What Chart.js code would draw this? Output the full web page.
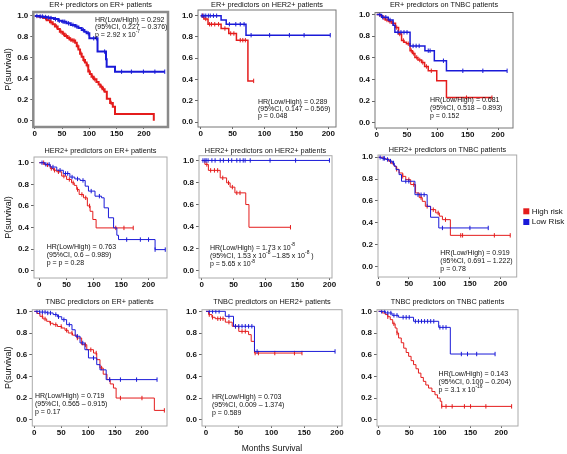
<!DOCTYPE html>
<html>
<head>
<meta charset="utf-8">
<title>Kaplan-Meier survival by predictor set</title>
<script src="https://cdn.jsdelivr.net/npm/chart.js@4.4.1/dist/chart.umd.min.js"></script>
<style>
    body { margin: 0; width: 567px; height: 454px; overflow: hidden; background: #fff; position: relative; }
    canvas { position: absolute; }
</style>
</head>
<body>
<script>
// ---- shared axis values ----
const xTickValues = [0, 50, 100, 150, 200];
const yTickValues = [0, 0.2, 0.4, 0.6, 0.8, 1.0];
const riskLabels = ['High risk', 'Low Risk'];
const riskColors = ['#e41c1c', '#1a1ad8'];

const panelTitles = [
    'ER+ predictors on ER+ patients', 'ER+ predictors on HER2+ patients', 'ER+ predictors on TNBC patients',
    'HER2+ predictors on ER+ patients', 'HER2+ predictors on HER2+ patients', 'HER2+ predictors on TNBC patients',
    'TNBC predictors on ER+ patients', 'TNBC predictors on HER2+ patients', 'TNBC predictors on TNBC patients'
];

// ^{..} marks a superscript
const hrNotes = [
    ['HR(Low/High) = 0.292', '(95%CI, 0.227 \u2013 0.376)', 'p = 2.92 x 10^{-7}'],
    ['HR(Low/High) = 0.289', '(95%CI, 0.147 \u2013 0.569)', 'p = 0.048'],
    ['HR(Low/High) = 0.681', '(95%CI, 0.518 \u2013 0.893)', 'p = 0.152'],
    ['HR(Low/High) = 0.763', '(95%CI, 0.6 \u2013 0.989)', 'p = p = 0.28'],
    ['HR(Low/High) = 1.73 x 10^{-8}', '(95%CI, 1.53 x 10^{-8} \u20131.85 x 10^{-8} )', 'p = 5.65 x 10^{-8}'],
    ['HR(Low/High) = 0.919', '(95%CI, 0.691 \u2013 1.222)', 'p = 0.78'],
    ['HR(Low/High) = 0.719', '(95%CI, 0.565 \u2013 0.915)', 'p = 0.17'],
    ['HR(Low/High) = 0.703', '(95%CI, 0.009 \u2013 1.374)', 'p = 0.589'],
    ['HR(Low/High) = 0.143', '(95%CI, 0.100 \u2013 0.204)', 'p = 3.1 x 10^{-16}']
];

// ---- survival curves: event times (months), survival after each time, censor times ----
// ER+ predictors on ER+
const p11HighT = [0, 5, 10, 16, 22, 28, 33, 37, 42, 46, 51, 55, 60, 64, 68, 74, 77, 80, 83, 86, 89, 92, 95, 98, 101, 104, 108, 113, 117, 120, 124, 128, 132, 138, 143, 147, 218];
const p11HighS = [1, 0.995, 0.99, 0.98, 0.96, 0.94, 0.92, 0.9, 0.875, 0.85, 0.83, 0.81, 0.79, 0.775, 0.765, 0.745, 0.71, 0.68, 0.64, 0.61, 0.58, 0.555, 0.53, 0.47, 0.445, 0.42, 0.395, 0.37, 0.345, 0.325, 0.3, 0.277, 0.21, 0.17, 0.134, 0.064, 0];
const p11HighC = [20, 30, 40, 48, 53, 58, 63, 66, 70, 72, 79, 85, 90, 96, 100, 106, 110, 122, 126, 140];
const p11LowT = [0, 8, 16, 22, 28, 35, 43, 50, 58, 66, 74, 80, 86, 91, 95, 100, 115, 130.5, 131.7, 147, 238];
const p11LowS = [1, 0.995, 0.99, 0.985, 0.98, 0.97, 0.955, 0.945, 0.93, 0.915, 0.9, 0.885, 0.866, 0.85, 0.834, 0.787, 0.66, 0.586, 0.516, 0.468, 0.468];
const p11LowC = [4, 10, 14, 20, 25, 30, 38, 45, 52, 55, 62, 70, 77, 89, 98, 108, 113, 128, 159, 177, 199, 220, 238];

// ER+ predictors on HER2+
const p12HighT = [0, 5, 11.5, 32, 44, 56, 74, 83];
const p12HighS = [1, 0.97, 0.92, 0.88, 0.833, 0.77, 0.387, 0.387];
const p12HighC = [3, 8, 14, 17, 22, 28, 38, 47, 52, 62, 66, 70, 83];
const p12LowT = [0, 32, 40, 71, 203];
const p12LowS = [1, 0.96, 0.92, 0.817, 0.817];
const p12LowC = [2, 5, 8, 12, 15, 20, 25, 45, 55, 62, 68, 79, 108, 139, 162, 203];

// ER+ predictors on TNBC
const p13HighT = [0, 5, 10, 14, 20, 25, 31, 36, 41, 45, 49, 55, 59, 63, 68, 74, 79, 85, 99, 115, 190];
const p13HighS = [1, 0.99, 0.97, 0.95, 0.935, 0.92, 0.88, 0.82, 0.76, 0.745, 0.73, 0.666, 0.64, 0.604, 0.58, 0.557, 0.52, 0.48, 0.387, 0.232, 0.232];
const p13HighC = [12, 17, 22, 27, 33, 38, 44, 52, 57, 61, 66, 71, 76, 82, 90, 148, 190];
const p13LowT = [0, 8, 19, 27, 30, 55, 79.5, 95, 115, 215];
const p13LowS = [1, 0.975, 0.95, 0.9, 0.836, 0.71, 0.666, 0.573, 0.48, 0.48];
const p13LowC = [5, 10, 15, 22, 35, 40, 45, 50, 60, 65, 70, 85, 88, 110, 142, 175, 215];

// HER2+ predictors on ER+
const p21HighT = [0, 10, 20, 26, 32, 41, 50, 59, 64, 68.5, 73, 81, 88, 93, 98, 104, 172];
const p21HighS = [1, 0.98, 0.947, 0.93, 0.916, 0.876, 0.845, 0.814, 0.79, 0.752, 0.706, 0.675, 0.6, 0.55, 0.474, 0.396, 0.396];
const p21HighC = [8, 15, 22, 28, 35, 45, 55, 62, 70, 78, 85, 92, 140, 155, 172];
const p21LowT = [0, 10, 20, 32, 44, 56, 65, 74.6, 84, 90, 102, 114, 118.7, 126.6, 136, 142, 145, 212, 230.6];
const p21LowS = [1, 0.985, 0.96, 0.93, 0.9, 0.867, 0.85, 0.836, 0.783, 0.737, 0.69, 0.675, 0.582, 0.49, 0.396, 0.328, 0.288, 0.195, 0.195];
const p21LowC = [5, 12, 18, 25, 38, 48, 52, 60, 70, 80, 95, 110, 160, 185, 200, 212, 230.6];

// HER2+ predictors on HER2+
const p22HighT = [0, 5, 10.5, 29, 39, 44.5, 52, 69, 74, 139];
const p22HighS = [1, 0.964, 0.91, 0.842, 0.797, 0.758, 0.706, 0.6, 0.394, 0.394];
const p22HighC = [8, 14, 20, 25, 33, 42, 48, 55, 60, 139];
const p22LowT = [0, 200];
const p22LowS = [1, 1];
const p22LowC = [2, 5, 7, 10, 16, 21, 29, 34, 42, 47, 55, 60, 65, 68, 76, 107, 147, 200];

// HER2+ predictors on TNBC
const p23HighT = [0, 8, 17, 22, 26, 30, 34, 40, 45, 53, 61, 67, 72, 77, 85.6, 94, 100, 105, 118, 216];
const p23HighS = [1, 0.985, 0.963, 0.94, 0.917, 0.89, 0.856, 0.825, 0.795, 0.75, 0.673, 0.63, 0.596, 0.55, 0.52, 0.49, 0.46, 0.428, 0.284, 0.284];
const p23HighC = [20, 30, 40, 50, 58, 70, 80, 90, 98, 110, 135, 138, 190, 216];
const p23LowT = [0, 5, 12, 18, 23, 26, 29, 34, 38, 60, 80, 85.6, 99, 180];
const p23LowS = [1, 0.99, 0.98, 0.965, 0.948, 0.92, 0.887, 0.841, 0.78, 0.657, 0.55, 0.45, 0.352, 0.352];
const p23LowC = [3, 8, 10, 15, 20, 25, 45, 50, 65, 70, 75, 105, 150, 180];

// TNBC predictors on ER+
const p31HighT = [0, 5, 10.5, 16, 23, 29, 35, 43, 51, 57, 63, 71, 79, 88, 97.5, 110, 116, 122, 128, 135, 141, 147, 152, 223, 241.6];
const p31HighS = [1, 0.98, 0.954, 0.93, 0.908, 0.89, 0.877, 0.86, 0.846, 0.825, 0.8, 0.78, 0.754, 0.692, 0.646, 0.615, 0.554, 0.477, 0.42, 0.37, 0.33, 0.292, 0.2, 0.086, 0.086];
const p31HighC = [15, 20, 30, 40, 50, 60, 70, 80, 95, 105, 115, 125, 140, 160, 200, 241.6];
const p31LowT = [0, 10, 23, 35, 43, 51, 60, 70, 76, 85, 94, 100.6, 116, 122, 133.5, 228];
const p31LowS = [1, 0.993, 0.985, 0.97, 0.95, 0.923, 0.877, 0.83, 0.77, 0.708, 0.646, 0.57, 0.508, 0.46, 0.37, 0.37];
const p31LowC = [5, 10, 15, 20, 25, 30, 40, 45, 55, 65, 80, 90, 110, 140, 160, 190, 228];

// TNBC predictors on HER2+
const p32HighT = [0, 4, 9, 14, 29.5, 40, 50, 65, 69, 74, 146.5];
const p32HighS = [1, 0.97, 0.945, 0.932, 0.9, 0.862, 0.815, 0.785, 0.723, 0.615, 0.615];
const p32HighC = [5, 10, 18, 22, 26, 35, 45, 55, 60, 75, 80, 105, 135, 146.5];
const p32LowT = [0, 29.5, 42, 74, 197];
const p32LowS = [1, 0.954, 0.862, 0.63, 0.63];
const p32LowC = [5, 10, 15, 20, 35, 45, 50, 55, 60, 65, 70, 78, 197];

// TNBC predictors on TNBC
const p33HighT = [0, 6, 11, 15, 19, 23, 27, 30, 32.6, 37, 41, 45, 49, 53, 57, 61, 65, 69, 73, 77, 81.5, 87, 92, 96, 100.5, 103, 217];
const p33HighS = [1, 0.985, 0.97, 0.95, 0.923, 0.885, 0.846, 0.8, 0.754, 0.71, 0.66, 0.62, 0.585, 0.545, 0.508, 0.47, 0.43, 0.39, 0.354, 0.32, 0.292, 0.26, 0.23, 0.2, 0.17, 0.123, 0.123];
const p33HighC = [15, 25, 30, 103, 110, 120, 140, 150, 175, 217];
const p33LowT = [0, 11, 22, 32.6, 57, 98, 117, 190];
const p33LowS = [1, 0.985, 0.963, 0.945, 0.908, 0.852, 0.606, 0.606];
const p33LowC = [5, 10, 15, 20, 25, 30, 40, 45, 50, 60, 65, 70, 75, 80, 85, 90, 100, 105, 110, 135, 145, 160, 190];

const panelCurves = [
    [p11HighT, p11HighS, p11HighC, p11LowT, p11LowS, p11LowC],
    [p12HighT, p12HighS, p12HighC, p12LowT, p12LowS, p12LowC],
    [p13HighT, p13HighS, p13HighC, p13LowT, p13LowS, p13LowC],
    [p21HighT, p21HighS, p21HighC, p21LowT, p21LowS, p21LowC],
    [p22HighT, p22HighS, p22HighC, p22LowT, p22LowS, p22LowC],
    [p23HighT, p23HighS, p23HighC, p23LowT, p23LowS, p23LowC],
    [p31HighT, p31HighS, p31HighC, p31LowT, p31LowS, p31LowC],
    [p32HighT, p32HighS, p32HighC, p32LowT, p32LowS, p32LowC],
    [p33HighT, p33HighS, p33HighC, p33LowT, p33LowS, p33LowC]
];

// ---- layout (page pixels): plot frame, axis ranges, margins ----
const FONT = "'Liberation Sans', Arial, Helvetica, sans-serif";
const TITLE_LH = 8;
const panels = [
    { frame: [33.3, 12, 168.3, 127],  x: [-2.6, 244],   y: [-0.06, 1.038],  titleY: 5,     padL: 33.3, padR: 8,    padB: 15, note: [95, 20, 7.3],     lw: 2,   fw: 2.5, fc: '#8a8a8a', yTitle: true },
    { frame: [198.3, 10, 336.7, 126.7], x: [-4.2, 212], y: [-0.047, 1.054], titleY: 5,     padL: 24,   padR: 8,    padB: 15, note: [258.3, 101.7, 7.3], lw: 1.5, fw: 1,   fc: '#777' },
    { frame: [375, 12, 513.3, 127],   x: [-2.8, 224.7], y: [-0.049, 1.019], titleY: 4.5,   padL: 22,   padR: 8,    padB: 15, note: [430, 100, 7.7],   lw: 1.5, fw: 1,   fc: '#777' },
    { frame: [34, 157.3, 166.7, 278], x: [-9.7, 233.8], y: [-0.068, 1.053], titleY: 151.3, padL: 34,   padR: 8,    padB: 15, note: [46.7, 247.3, 8.1], lw: 1,   fw: 1,   fc: '#aaa', yTitle: true },
    { frame: [199, 156, 331.7, 278],  x: [-4.2, 204],   y: [-0.066, 1.043], titleY: 151.3, padL: 24,   padR: 8,    padB: 15, note: [210, 248, 8.2],   lw: 1,   fw: 1,   fc: '#aaa' },
    { frame: [377.7, 155, 516.7, 277], x: [-0.5, 226.6], y: [-0.098, 1.021], titleY: 150,  padL: 22,   padR: 50.3, padB: 16, note: [440, 253, 7.8],   lw: 1,   fw: 1,   fc: '#aaa', legend: true },
    { frame: [32.3, 309.7, 166.7, 426], x: [-3.7, 246.5], y: [-0.058, 1.015], titleY: 302, padL: 32.3, padR: 8,    padB: 15, note: [35, 396.3, 8.1],  lw: 1,   fw: 1,   fc: '#aaa', yTitle: true },
    { frame: [201.7, 309.7, 341.7, 426], x: [-6.1, 207.6], y: [-0.058, 1.015], titleY: 302, padL: 24,  padR: 8,    padB: 28, note: [211.7, 397.3, 7.9], lw: 1,  fw: 1,   fc: '#aaa', xTitle: true },
    { frame: [376.7, 309.7, 517.7, 426], x: [-2.6, 227.4], y: [-0.058, 1.015], titleY: 302, padL: 22,  padR: 8,    padB: 15, note: [438.3, 374, 7.9], lw: 1,   fw: 1,   fc: '#aaa' }
];

Chart.defaults.font.family = FONT;
Chart.defaults.color = '#111';

// survival value of a step curve at time t
function survivalAt(times, surv, t) {
    let s = surv[0];
    for (let i = 0; i < times.length; i++) {
        if (times[i] <= t) s = surv[i];
    }
    return s;
}

function curveDatasets(times, surv, cens, color, lw) {
    return [
        {
            data: times.map((t, i) => ({ x: t, y: surv[i] })),
            borderColor: color,
            borderWidth: lw,
            stepped: true,
            pointRadius: 0,
            fill: false
        },
        {
            data: cens.map(t => ({ x: t, y: survivalAt(times, surv, t) })),
            showLine: false,
            borderColor: color,
            pointStyle: 'line',
            rotation: 90,
            pointRadius: 2.2,
            pointBorderWidth: 1,
            pointBorderColor: color
        }
    ];
}

// text with ^{..} superscripts
function drawRich(ctx, text, x, y, size) {
    const parts = text.split(/(\^\{[^}]*\})/);
    parts.forEach(part => {
        if (!part) return;
        if (part.startsWith('^{')) {
            const s = part.slice(2, -1);
            ctx.font = (size * 0.7) + 'px ' + FONT;
            ctx.fillText(s, x, y - size * 0.4);
            x += ctx.measureText(s).width;
        } else {
            ctx.font = size + 'px ' + FONT;
            ctx.fillText(part, x, y);
            x += ctx.measureText(part).width;
        }
    });
}

function makePanel(p, idx) {
    const canvasLeft = p.frame[0] - p.padL;
    const canvasTop = p.titleY - TITLE_LH / 2;
    const padT = p.frame[1] - canvasTop;
    const width = p.frame[2] - canvasLeft + p.padR;
    const height = p.frame[3] + p.padB - canvasTop;

    const canvas = document.createElement('canvas');
    canvas.width = Math.round(width);
    canvas.height = Math.round(height);
    canvas.style.left = canvasLeft + 'px';
    canvas.style.top = canvasTop + 'px';
    document.body.appendChild(canvas);

    const c = panelCurves[idx];
    // blue first so it sits on top of red
    const datasets = curveDatasets(c[3], c[4], c[5], riskColors[1], p.lw)
        .concat(curveDatasets(c[0], c[1], c[2], riskColors[0], p.lw));

    const extras = {
        id: 'extras',
        afterDraw(chart) {
            const ctx = chart.ctx;
            const a = chart.chartArea;
            ctx.save();
            // plot frame
            ctx.strokeStyle = p.fc;
            ctx.lineWidth = p.fw;
            ctx.strokeRect(a.left, a.top, a.right - a.left, a.bottom - a.top);
            // HR note
            ctx.fillStyle = '#111';
            ctx.textBaseline = 'middle';
            ctx.textAlign = 'left';
            hrNotes[idx].forEach((line, i) => {
                drawRich(ctx, line, p.note[0] - canvasLeft, p.note[1] + i * p.note[2] - canvasTop, 7);
            });
            // risk legend
            if (p.legend) {
                const lx = a.right + 6.6;
                riskLabels.forEach((label, i) => {
                    const cy = 211.3 + i * 10.7 - canvasTop;
                    ctx.fillStyle = riskColors[i];
                    ctx.fillRect(lx, cy - 3, 6, 6);
                    ctx.fillStyle = '#111';
                    ctx.font = '8px ' + FONT;
                    ctx.fillText(label, lx + 8.4, cy);
                });
            }
            ctx.restore();
        }
    };

    new Chart(canvas, {
        type: 'line',
        data: { datasets: datasets },
        options: {
            responsive: false,
            animation: false,
            devicePixelRatio: 1,
            events: [],
            layout: { padding: { left: 0, top: 0, right: p.padR, bottom: 0 } },
            plugins: {
                legend: { display: false },
                tooltip: { enabled: false },
                title: {
                    display: true,
                    text: panelTitles[idx],
                    fullSize: false,
                    font: { size: 7.3, weight: 'normal', lineHeight: TITLE_LH + 'px' },
                    color: '#111',
                    padding: { top: 0, bottom: padT - TITLE_LH }
                }
            },
            scales: {
                x: {
                    type: 'linear',
                    min: p.x[0],
                    max: p.x[1],
                    afterBuildTicks: s => { s.ticks = xTickValues.map(v => ({ value: v })); },
                    afterFit: s => { s.height = p.padB; },
                    grid: { drawOnChartArea: false, drawTicks: true, tickLength: 2, color: '#666' },
                    border: { display: false },
                    ticks: { font: { size: 8, weight: 'bold' }, padding: 0, maxRotation: 0, autoSkip: false },
                    title: {
                        display: !!p.xTitle,
                        text: 'Months Survival',
                        font: { size: 8.5, lineHeight: 1 },
                        padding: { top: 0, bottom: 1 }
                    }
                },
                y: {
                    type: 'linear',
                    min: p.y[0],
                    max: p.y[1],
                    afterBuildTicks: s => { s.ticks = yTickValues.map(v => ({ value: v })); },
                    afterFit: s => { s.width = p.padL; },
                    grid: { drawOnChartArea: false, drawTicks: true, tickLength: 3, color: '#666' },
                    border: { display: false },
                    ticks: {
                        font: { size: 8, weight: 'bold' },
                        padding: 2,
                        autoSkip: false,
                        callback: v => Number(v).toFixed(1)
                    },
                    title: {
                        display: !!p.yTitle,
                        text: 'P(survival)',
                        font: { size: 9 },
                        padding: { top: 3, bottom: 0 }
                    }
                }
            }
        },
        plugins: [extras]
    });
}

panels.forEach(makePanel);
</script>
</body>
</html>
